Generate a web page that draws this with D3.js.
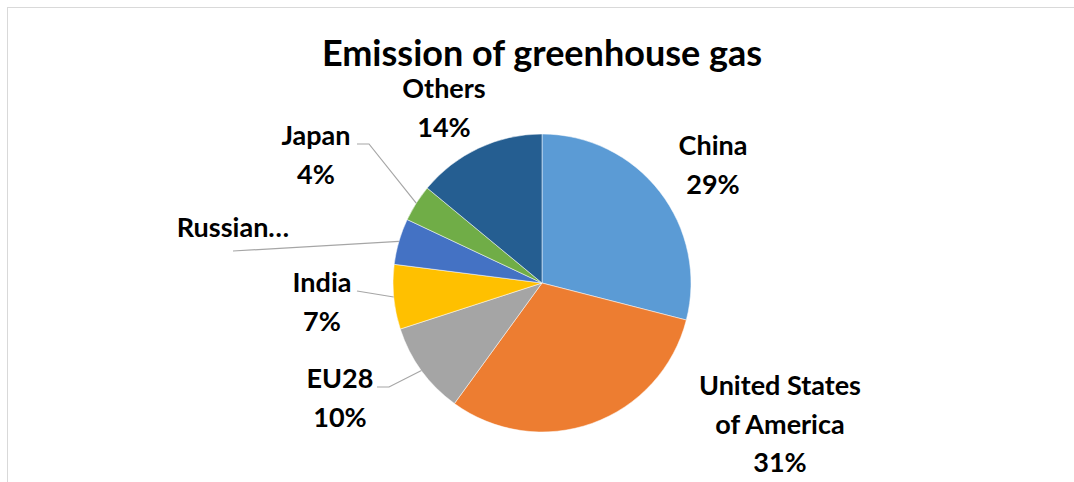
<!DOCTYPE html>
<html>
<head>
<meta charset="utf-8">
<script src="https://cdn.jsdelivr.net/npm/d3@7"></script>
<style>
  body { margin: 0; background: #fff; }
  text { font-family: Lato, "Open Sans", sans-serif; font-weight: bold; fill: #000; }
</style>
</head>
<body>
<div id="chart"></div>
<script>
let width = 1074
let height = 482

// data
let countries = ["China", "United States of America", "EU28", "India", "Russian Federation", "Japan", "Others"]
let shares = [29, 31, 10, 7, 5, 4, 14]
let colors = ["#5B9BD5", "#ED7D31", "#A5A5A5", "#FFC000", "#4472C4", "#70AD47", "#255E91"]
let labelLines = [["China", "29%"], ["United States", "of America", "31%"], ["EU28", "10%"], ["India", "7%"], ["Russian…"], ["Japan", "4%"], ["Others", "14%"]]

// label anchors (layout)
let labelPos = [[713, 145], [780, 385], [340, 378], [322, 282], [233, 227], [316, 135], [444, 88]]
let leaderStart = [null, null, [377, 387], [357, 291], [233, 251], [357, 144], null]

let cx = 542, cy = 283, r = 149

let svg = d3.select("#chart")
    .append("svg")
    .attr("width", width)
    .attr("height", height)

// chart border
svg.append("rect")
    .attr("x", 7.5)
    .attr("y", 7.5)
    .attr("width", 1100)
    .attr("height", 500)
    .attr("fill", "none")
    .attr("stroke", "#d9d9d9")

svg.append("text")
    .attr("x", cx)
    .attr("y", 66)
    .attr("text-anchor", "middle")
    .style("font-size", "36px")
    .text("Emission of greenhouse gas")

let pie = d3.pie().sort(null).value(d => d)
let arcs = pie(shares)
let arc = d3.arc().innerRadius(0).outerRadius(r)

let g = svg.append("g").attr("transform", `translate(${cx},${cy})`)

g.selectAll("path")
    .data(arcs)
    .enter()
    .append("path")
    .attr("d", arc)
    .attr("fill", (d, i) => colors[i])
    .attr("stroke", "#fff")
    .attr("stroke-width", 0.5)

// leader lines
arcs.forEach(function (d, i) {
    if (!leaderStart[i]) return
    let a = (d.startAngle + d.endAngle) / 2
    let ex = cx + r * Math.sin(a)
    let ey = cy - r * Math.cos(a)
    let s = leaderStart[i]
    let pts = [s, [s[0] + 12, s[1]], [ex, ey]]
    if (i == 4 || i == 3) pts = [s, [ex, ey]]
    svg.append("polyline")
        .attr("points", pts.map(p => p.join(",")).join(" "))
        .attr("fill", "none")
        .attr("stroke", "#a6a6a6")
        .attr("stroke-width", 1.2)
})

// labels
labelLines.forEach(function (lines, i) {
    let t = svg.append("text")
        .attr("text-anchor", "middle")
        .style("font-size", "27px")
    lines.forEach(function (l, j) {
        t.append("tspan")
            .attr("x", labelPos[i][0])
            .attr("y", labelPos[i][1] + 10 + j * 38.5)
            .text(l)
    })
})
</script>
</body>
</html>
